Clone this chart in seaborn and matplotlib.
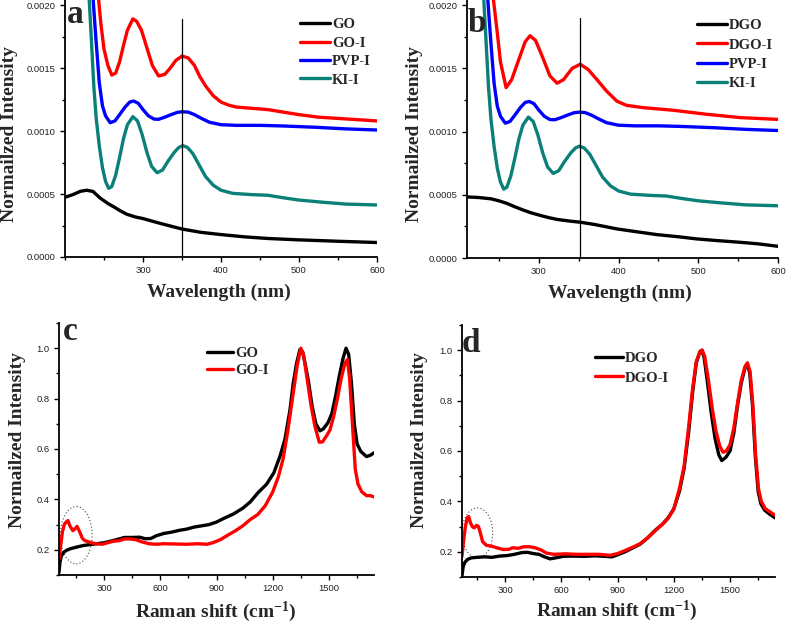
import numpy as np
import pandas as pd
import matplotlib
matplotlib.use("Agg")
import matplotlib.pyplot as plt
import seaborn as sns
from matplotlib.ticker import MultipleLocator, FormatStrFormatter
from matplotlib.font_manager import FontProperties
from matplotlib.patches import Ellipse

# ---------------- data ----------------
# Panel a (UV-vis)
go_x = [200, 210, 220, 228, 236, 245, 255, 262, 270, 279, 290, 300, 322, 350, 374, 400, 430, 460, 500, 550, 600]
go_y = [0.000474, 0.000495, 0.000522, 0.000530, 0.000520, 0.000468, 0.000425, 0.000400, 0.000370, 0.000340,
        0.000318, 0.000305, 0.000267, 0.000222, 0.000196, 0.000178, 0.000160, 0.000147, 0.000136, 0.000125, 0.000115]

goi_x = [243, 246, 250, 255, 260, 265, 270, 275, 280, 287, 292, 298, 305, 312, 320, 328, 335, 342, 350, 358,
         366, 373, 380, 390, 400, 410, 420, 440, 460, 480, 500, 525, 550, 575, 600]
goi_y = [0.00205, 0.00185, 0.00165, 0.00152, 0.001444, 0.00146, 0.00155, 0.00168, 0.00180, 0.00189, 0.00187,
         0.00180, 0.00166, 0.00152, 0.001437, 0.00145, 0.00150, 0.00156, 0.001595, 0.00158, 0.00152, 0.00143,
         0.00136, 0.00128, 0.00123, 0.001205, 0.00119, 0.00118, 0.00117, 0.00115, 0.00113, 0.00111, 0.00110,
         0.00109, 0.00108]

pvp_x = [236, 240, 244, 248, 252, 258, 264, 270, 277, 283, 288, 294, 300, 307, 314, 320, 328, 336, 344, 350,
         358, 366, 375, 385, 400, 420, 450, 480, 520, 560, 600]
pvp_y = [0.00205, 0.00170, 0.00138, 0.00120, 0.00112, 0.001066, 0.00108, 0.00113, 0.00119, 0.00123, 0.001238,
         0.00122, 0.00117, 0.00112, 0.001095, 0.001093, 0.00111, 0.00113, 0.001148, 0.001153, 0.00115, 0.00113,
         0.00110, 0.00107, 0.00105, 0.001045, 0.001045, 0.00104, 0.00103, 0.001017, 0.001008]

ki_x = [231, 234, 237, 240, 244, 248, 252, 256, 260, 265, 270, 275, 280, 287, 293, 299, 305, 311, 318, 325,
        332, 340, 346, 351, 357, 364, 372, 380, 390, 400, 415, 440, 460, 480, 500, 530, 560, 600]
ki_y = [0.00205, 0.00170, 0.00135, 0.00110, 0.00088, 0.00071, 0.00060, 0.000545, 0.00056, 0.00065, 0.00079,
        0.00094, 0.00105, 0.001114, 0.00108, 0.00097, 0.00083, 0.00072, 0.000669, 0.00069, 0.00076, 0.00083,
        0.00087, 0.000884, 0.00087, 0.00082, 0.00073, 0.00064, 0.00057, 0.00053, 0.000505, 0.000495, 0.00049,
        0.00047, 0.000452, 0.000435, 0.00042, 0.000413]

# Panel b (UV-vis)
dgo_x = [210, 225, 240, 250, 260, 270, 281, 290, 300, 312, 323, 340, 352, 370, 398, 420, 448, 475, 498, 525, 553, 575, 600]
dgo_y = [0.000483, 0.000478, 0.000468, 0.000452, 0.000432, 0.000405, 0.000378, 0.000358, 0.000340, 0.000320,
         0.000305, 0.000291, 0.000283, 0.000265, 0.000230, 0.000210, 0.000185, 0.000168, 0.000151, 0.000137,
         0.000124, 0.000112, 0.0000925]

dgoi_x = [243, 248, 252, 259, 266, 275, 283, 289, 296, 304, 314, 323, 331, 342, 352, 362, 373, 385, 398, 410,
          431, 469, 511, 553, 600]
dgoi_y = [0.00205, 0.00178, 0.00155, 0.001347, 0.00141, 0.00157, 0.00171, 0.001757, 0.00172, 0.00160, 0.00144,
          0.001382, 0.00141, 0.00150, 0.001532, 0.00149, 0.00141, 0.00132, 0.00124, 0.001207, 0.001189, 0.001168,
          0.001136, 0.00111, 0.001096]

# Panel c (Raman)
rc_x_go = [60, 65, 72, 85, 100, 120, 150, 190, 240, 300, 340, 380, 410, 450, 490, 520, 550, 580, 620, 660, 700,
           740, 780, 820, 860, 900, 940, 990, 1040, 1080, 1122, 1167, 1206, 1238, 1265, 1292, 1309, 1327, 1345,
           1360, 1375, 1390, 1410, 1430, 1452, 1470, 1495, 1515, 1535, 1555, 1575, 1591, 1605, 1620, 1635, 1650,
           1670, 1700, 1720, 1740]
rc_go = [0.11, 0.15, 0.175, 0.19, 0.198, 0.204, 0.21, 0.217, 0.222, 0.228, 0.235, 0.243, 0.249, 0.249, 0.25,
         0.244, 0.245, 0.256, 0.265, 0.27, 0.277, 0.282, 0.29, 0.295, 0.30, 0.31, 0.325, 0.342, 0.365, 0.39, 0.427,
         0.46, 0.506, 0.57, 0.638, 0.756, 0.86, 0.94, 0.995, 0.985, 0.93, 0.87, 0.77, 0.70, 0.672, 0.68, 0.705,
         0.74, 0.81, 0.89, 0.96, 1.0, 0.975, 0.86, 0.70, 0.62, 0.59, 0.57, 0.575, 0.585]

rc_x_goi = [60, 68, 78, 88, 98, 108, 118, 134, 145, 156, 170, 185, 197, 230, 260, 290, 320, 350, 380, 410, 440,
            470, 500, 540, 580, 620, 680, 740, 800, 850, 880, 920, 960, 1000, 1040, 1080, 1120, 1160, 1200, 1230,
            1255, 1280, 1305, 1330, 1350, 1365, 1385, 1405, 1425, 1448, 1465, 1485, 1505, 1525, 1545, 1565, 1585,
            1598, 1610, 1625, 1640, 1655, 1675, 1700, 1720, 1740]
rc_goi = [0.165, 0.21, 0.27, 0.30, 0.31, 0.316, 0.295, 0.276, 0.283, 0.293, 0.272, 0.245, 0.237, 0.228, 0.224,
          0.222, 0.228, 0.234, 0.236, 0.243, 0.243, 0.24, 0.232, 0.224, 0.222, 0.224, 0.223, 0.222, 0.224, 0.222,
          0.228, 0.24, 0.258, 0.275, 0.295, 0.32, 0.34, 0.375, 0.43, 0.49, 0.56, 0.67, 0.80, 0.93, 1.0, 0.97, 0.87,
          0.77, 0.69, 0.627, 0.628, 0.65, 0.675, 0.73, 0.80, 0.88, 0.94, 0.955, 0.88, 0.70, 0.52, 0.46, 0.43, 0.415,
          0.415, 0.41]

# Panel d (Raman)
rd_x_dgo = [70, 76, 85, 100, 120, 150, 190, 230, 270, 310, 350, 390, 420, 450, 480, 510, 540, 570, 610, 660, 720,
            780, 830, 870, 900, 940, 980, 1020, 1060, 1100, 1140, 1170, 1200, 1230, 1255, 1280, 1300, 1320, 1340,
            1350, 1362, 1380, 1400, 1420, 1440, 1456, 1478, 1500, 1520, 1540, 1560, 1580, 1592, 1605, 1620, 1635,
            1650, 1665, 1685, 1710, 1740]
rd_dgo = [0.105, 0.14, 0.158, 0.17, 0.176, 0.178, 0.18, 0.178, 0.183, 0.185, 0.19, 0.197, 0.198, 0.193, 0.19,
          0.18, 0.172, 0.176, 0.182, 0.183, 0.182, 0.184, 0.182, 0.18, 0.188, 0.20, 0.215, 0.23, 0.255, 0.285, 0.31,
          0.335, 0.37, 0.44, 0.53, 0.68, 0.83, 0.95, 0.995, 1.0, 0.97, 0.87, 0.75, 0.65, 0.585, 0.562, 0.575, 0.60,
          0.67, 0.78, 0.87, 0.93, 0.945, 0.91, 0.78, 0.58, 0.44, 0.39, 0.365, 0.35, 0.335]

rd_x_dgoi = [70, 78, 88, 98, 106, 115, 125, 135, 148, 158, 168, 180, 200, 230, 260, 290, 320, 340, 370, 400, 430,
             460, 490, 520, 560, 620, 680, 740, 800, 860, 900, 940, 980, 1020, 1060, 1100, 1140, 1170, 1200, 1230,
             1255, 1280, 1300, 1320, 1340, 1352, 1365, 1385, 1405, 1425, 1445, 1462, 1480, 1500, 1520, 1540, 1560,
             1580, 1593, 1607, 1622, 1637, 1652, 1667, 1687, 1710, 1740]
rd_dgoi = [0.183, 0.24, 0.30, 0.335, 0.34, 0.315, 0.30, 0.295, 0.305, 0.30, 0.275, 0.24, 0.226, 0.222, 0.215,
           0.209, 0.21, 0.216, 0.214, 0.22, 0.22, 0.216, 0.208, 0.195, 0.19, 0.192, 0.19, 0.19, 0.19, 0.186, 0.193,
           0.205, 0.218, 0.232, 0.255, 0.283, 0.31, 0.333, 0.37, 0.45, 0.54, 0.70, 0.845, 0.955, 0.995, 1.0, 0.975,
           0.88, 0.77, 0.68, 0.62, 0.595, 0.60, 0.625, 0.69, 0.79, 0.88, 0.935, 0.95, 0.915, 0.78, 0.58, 0.45, 0.40,
           0.372, 0.36, 0.345]

labels_a = ["GO", "GO-I", "PVP-I", "KI-I"]
labels_b = ["DGO", "DGO-I", "PVP-I", "KI-I"]
labels_c = ["GO", "GO-I"]
labels_d = ["DGO", "DGO-I"]

colors_uv = ["#000000", "#ff0000", "#0000ff", "#0a8078"]
colors_raman = ["#000000", "#ff0000"]

# ---------------- style ----------------
sns.set_style("ticks")
plt.rcParams["font.family"] = ["Liberation Serif", "DejaVu Serif"]
plt.rcParams["mathtext.fontset"] = "custom"
plt.rcParams["mathtext.rm"] = "Liberation Serif:bold"
plt.rcParams["mathtext.default"] = "rm"

W, H = 787, 625
fig = plt.figure(figsize=(W / 100, H / 100), dpi=100)


def add_ax(l, t, r, b):
    return fig.add_axes([l / W, 1 - b / H, (r - l) / W, (b - t) / H])


ax_a = add_ax(65, 0, 377, 257)
ax_b = add_ax(467, 0, 778, 258)
ax_c = add_ax(59, 323, 374, 575)
ax_d = add_ax(462, 325, 775, 577)

tick_font = FontProperties(family="Liberation Sans", size=6.8)
label_font = FontProperties(family="Liberation Serif", weight="bold", size=14)
leg_font = FontProperties(family="Liberation Serif", weight="bold", size=10.5)
letter_font = FontProperties(family="Liberation Serif", weight="bold", size=24)

LW = 2.4


def draw(ax, xs, ys, labels, colors):
    for x, y, lab, c in zip(xs, ys, labels, colors):
        df = pd.DataFrame({"x": x, "y": y})
        sns.lineplot(data=df, x="x", y="y", ax=ax, color=c, lw=LW, label=lab, sort=False,
                     solid_capstyle="round", legend=False)


def style(ax, xmaj, xmin, ymaj, ymin, yfmt):
    for s in ["top", "right"]:
        ax.spines[s].set_visible(False)
    for s in ["left", "bottom"]:
        ax.spines[s].set_linewidth(1.3)
        ax.spines[s].set_color("black")
    ax.xaxis.set_major_locator(MultipleLocator(xmaj))
    ax.xaxis.set_minor_locator(MultipleLocator(xmin))
    ax.yaxis.set_major_locator(MultipleLocator(ymaj))
    ax.yaxis.set_minor_locator(MultipleLocator(ymin))
    ax.yaxis.set_major_formatter(FormatStrFormatter(yfmt))
    ax.tick_params(which="major", direction="out", length=3.6, width=1.0, pad=3, color="black")
    ax.tick_params(which="minor", direction="out", length=2.3, width=1.0, color="black")


def legend(ax, labels, colors, left_px, top_px, hl, ls):
    handles = [matplotlib.lines.Line2D([], [], color=c, lw=LW) for c in colors]
    ax.legend(handles, labels, loc="upper left", bbox_to_anchor=(left_px / W, 1 - top_px / H),
              bbox_transform=fig.transFigure, frameon=False, borderpad=0, borderaxespad=0,
              handlelength=hl, handletextpad=0.15, labelspacing=ls, prop=leg_font)


# panel a
draw(ax_a, [go_x, goi_x, pvp_x, ki_x], [go_y, goi_y, pvp_y, ki_y], labels_a, colors_uv)
ax_a.set_xlim(200, 600)
ax_a.set_ylim(0, 0.00204)
ax_a.plot([350, 350], [0, 0.00189], color="black", lw=0.9)
style(ax_a, 100, 50, 0.0005, 0.00025, "%.4f")
ax_a.set_xticks([300, 400, 500, 600])
legend(ax_a, labels_a, colors_uv, 300, 18, 2.05, 0.36)

# panel b
draw(ax_b, [dgo_x, dgoi_x, pvp_x, ki_x], [dgo_y, dgoi_y, pvp_y, ki_y], labels_b, colors_uv)
ax_b.set_xlim(210, 600)
ax_b.set_ylim(0, 0.00204)
ax_b.plot([352, 352], [0, 0.0019], color="black", lw=0.9)
style(ax_b, 100, 50, 0.0005, 0.00025, "%.4f")
ax_b.set_xticks([300, 400, 500, 600])
legend(ax_b, labels_b, colors_uv, 697, 19, 2.05, 0.42)

# panel c
draw(ax_c, [rc_x_go, rc_x_goi], [rc_go, rc_goi], labels_c, colors_raman)
ax_c.set_xlim(60, 1740)
ax_c.set_ylim(0.1, 1.1)
style(ax_c, 300, 150, 0.2, 0.1, "%.1f")
ax_c.set_xticks([300, 600, 900, 1200, 1500])
ax_c.set_yticks([0.2, 0.4, 0.6, 0.8, 1.0])
ax_c.add_patch(Ellipse((152, 0.258), 169, 0.228, fill=False, ls=(0, (1, 2)), lw=0.8, ec="#444444"))
legend(ax_c, labels_c, colors_raman, 207, 346.5, 1.8, 0.3)

# panel d
draw(ax_d, [rd_x_dgo, rd_x_dgoi], [rd_dgo, rd_dgoi], labels_d, colors_raman)
ax_d.set_xlim(70, 1740)
ax_d.set_ylim(0.1, 1.1)
style(ax_d, 300, 150, 0.2, 0.1, "%.1f")
ax_d.set_xticks([300, 600, 900, 1200, 1500])
ax_d.set_yticks([0.2, 0.4, 0.6, 0.8, 1.0])
ax_d.add_patch(Ellipse((152, 0.275), 164, 0.198, fill=False, ls=(0, (1, 2)), lw=0.8, ec="#444444"))
legend(ax_d, labels_d, colors_raman, 595, 352, 1.9, 0.42)

for ax in [ax_a, ax_b, ax_c, ax_d]:
    for t in ax.get_xticklabels() + ax.get_yticklabels():
        t.set_fontproperties(tick_font)
        t.set_color("#222222")

# axis labels
ylab = "Normailzed Intensity"
for ax, xl in [(ax_a, "Wavelength (nm)"), (ax_b, "Wavelength (nm)"),
               (ax_c, "Raman shift (cm$^{-1}$)"), (ax_d, "Raman shift (cm$^{-1}$)")]:
    ax.set_xlabel(xl, fontproperties=label_font, va="center")
    ax.set_ylabel(ylab, fontproperties=label_font, va="center")

ax_a.yaxis.set_label_coords((10 - 65) / 312, (257 - 134) / 257)
ax_b.yaxis.set_label_coords((415 - 467) / 311, (258 - 134) / 258)
ax_c.yaxis.set_label_coords((18 - 59) / 315, (575 - 440) / 252)
ax_d.yaxis.set_label_coords((420 - 462) / 313, (577 - 440) / 252)
ax_a.xaxis.set_label_coords((219 - 65) / 312, (257 - 292) / 257)
ax_b.xaxis.set_label_coords((620 - 467) / 311, (258 - 293) / 258)
ax_c.xaxis.set_label_coords((216 - 59) / 315, (575 - 612) / 252)
ax_d.xaxis.set_label_coords((617 - 462) / 313, (577 - 611) / 252)

# panel letters
for ch, x, y in [("a", 67, 23), ("b", 468, 32), ("c", 63, 340), ("d", 462, 352)]:
    fig.text(x / W, 1 - y / H, ch, fontproperties=letter_font, ha="left", va="baseline")

fig.savefig("out.png", dpi=100)
